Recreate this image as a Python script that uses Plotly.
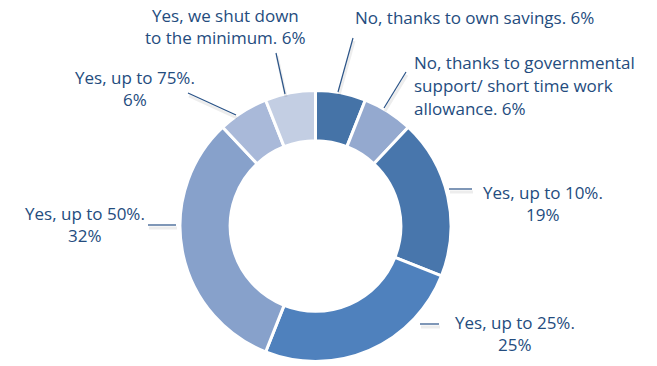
import plotly.graph_objects as go

# Survey answers, clockwise from 12 o'clock
categories = [
    "No, thanks to own savings.",
    "No, thanks to governmental support/ short time work allowance.",
    "Yes, up to 10%.",
    "Yes, up to 25%.",
    "Yes, up to 50%.",
    "Yes, up to 75%.",
    "Yes, we shut down to the minimum.",
]
shares = [6, 6, 19, 25, 32, 6, 6]
slice_colors = ["#4573A7", "#94A9CF", "#4876AC", "#4F81BD", "#87A1CB", "#A9B9D9", "#C3CEE3"]

# Label text (as drawn, with line breaks) per category
label_lines = [
    ["No, thanks to own savings. {v}%"],
    ["No, thanks to governmental", "support/ short time work", "allowance. {v}%"],
    ["Yes, up to 10%.", "{v}%"],
    ["Yes, up to 25%.", "{v}%"],
    ["Yes, up to 50%.", "{v}%"],
    ["Yes, up to 75%.", "{v}%"],
    ["Yes, we shut down", "to the minimum. {v}%"],
]

W, H = 657, 366
TEXT = "#244C7E"
LEADER = "#2A5387"

# Label placement in pixels: (x, y of first line centre, x-anchor)
label_pos = [
    (353, 17, "left"),
    (412, 63, "left"),
    (543, 192, "center"),
    (515, 322, "center"),
    (85, 213, "center"),
    (135, 77, "center"),
    (225, 15, "center"),
]
# Leader lines in pixels: (x0, y0, x1, y1)
leaders = [
    (338, 92, 353, 38),
    (384, 108, 406, 72),
    (449, 189, 472, 189),
    (420, 324, 439, 324),
    (148, 225, 176, 225),
    (188, 93, 236, 115),
    (276, 53, 285, 94),
]

cx, cy, r = 315.5, 226, 135.5

fig = go.Figure(
    go.Pie(
        labels=categories,
        values=shares,
        sort=False,
        direction="clockwise",
        rotation=0,
        hole=0.63,
        marker=dict(colors=slice_colors, line=dict(color="white", width=3)),
        textinfo="none",
        hoverinfo="label+percent",
        showlegend=False,
        domain=dict(x=[(cx - r) / W, (cx + r) / W], y=[(H - cy - r) / H, (H - cy + r) / H]),
    )
)

def px(x):
    return x / W

def py(y):
    return 1 - y / H

shapes = []
for x0, y0, x1, y1 in leaders:
    # soft shadow under each leader
    shapes.append(dict(type="line", xref="paper", yref="paper",
                       x0=px(x0 + 1), y0=py(y0 + 3), x1=px(x1 + 1), y1=py(y1 + 3),
                       line=dict(color="rgba(0,0,0,0.07)", width=3)))
    shapes.append(dict(type="line", xref="paper", yref="paper",
                       x0=px(x0), y0=py(y0), x1=px(x1), y1=py(y1),
                       line=dict(color=LEADER, width=1.2)))

annotations = []
line_h = 22.5
for lines, v, (x, y, anchor) in zip(label_lines, shares, label_pos):
    for i, ln in enumerate(lines):
        annotations.append(dict(
            text=ln.format(v=v), xref="paper", yref="paper",
            x=px(x), y=py(y + i * line_h), xanchor=anchor, yanchor="middle",
            showarrow=False, font=dict(family="Open Sans", size=17, color=TEXT),
        ))

fig.update_layout(
    width=W, height=H,
    margin=dict(l=0, r=0, t=0, b=0),
    paper_bgcolor="white",
    plot_bgcolor="white",
    shapes=shapes,
    annotations=annotations,
)

fig.write_html("out.html")
